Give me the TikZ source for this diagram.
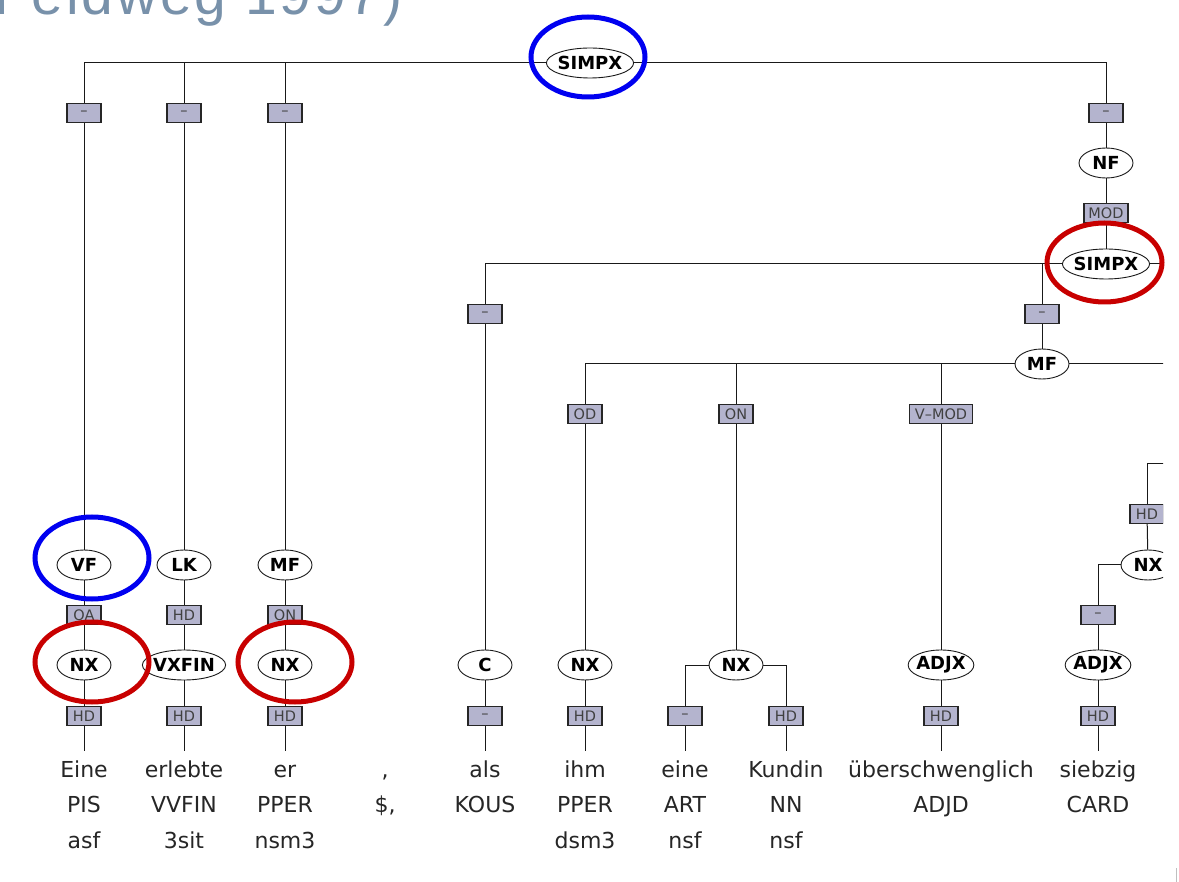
\documentclass[tikz,border=0pt]{standalone}
\usepackage{fontspec}
\setmainfont{DejaVu Sans}
\newfontfamily\titlefont[LetterSpace=5]{Liberation Sans}
\usetikzlibrary{shapes.geometric}
\definecolor{labcol}{RGB}{180,180,206}
\definecolor{ttl}{RGB}{120,145,170}
\definecolor{hiblue}{RGB}{0,0,240}
\definecolor{hired}{RGB}{200,0,0}
\begin{document}
\begin{tikzpicture}[x=1pt,y=-1pt,
  cat/.style={ellipse, draw=black!90, line width=0.9pt, fill=white, inner xsep=-1.5pt, inner ysep=0pt, minimum width=54pt, minimum height=30pt, font=\fontsize{18}{18}\selectfont\bfseries},
  lab/.style={rectangle, draw=black!85, line width=1.1pt, fill=labcol, inner sep=1.5pt, minimum width=34pt, minimum height=19pt, font=\fontsize{14.5}{14.5}\selectfont, text=black!75},
  word/.style={anchor=base, inner xsep=0pt, inner ysep=9pt, text height=17pt, text depth=5pt, font=\fontsize{22}{22}\selectfont, text=black!85},
  tag/.style={anchor=base, inner sep=0pt, font=\fontsize{22}{22}\selectfont, text=black!85},
  conn/.style={line width=1pt, draw=black!90},
  hl/.style={line width=5pt}
]
\useasboundingbox (0,0) rectangle (1179,882);
\fill[white] (0,0) rectangle (1179,882);
\begin{scope}
\clip (0,0) rectangle (1179,882);
\node[anchor=base west, inner sep=0pt, text=ttl, font=\titlefont\fontsize{57}{57}\selectfont] (title) at (-6,15) {Feldweg 1997)};
\end{scope}
\begin{scope}
\clip (0,0) rectangle (1163,882);
% top level
\node[cat] (s1) at (590,63) {SIMPX};
\node[lab] (e1) at (84,113) {–};
\node[lab] (e2) at (184,113) {–};
\node[lab] (e3) at (285,113) {–};
\node[lab] (e4) at (1106,113) {–};
\node[cat] (vf) at (84,565) {VF};
\node[cat] (lk) at (184,565) {LK};
\node[cat] (mf1) at (285,565) {MF};
\node[lab] (oa) at (84,615) {OA};
\node[lab] (hd1) at (184,615) {HD};
\node[lab] (on1) at (285,615) {ON};
\node[cat] (nx1) at (84,665) {NX};
\node[cat] (vxfin) at (184,665) {VXFIN};
\node[cat] (nx2) at (285,665) {NX};
\node[lab] (h1) at (84,716) {HD};
\node[lab] (h2) at (184,716) {HD};
\node[lab] (h3) at (285,716) {HD};
% NF branch
\node[cat] (nf) at (1106,163) {NF};
\node[lab, minimum width=44pt] (mod) at (1106,213) {MOD};
\node[cat] (s2) at (1106,264) {SIMPX};
\coordinate (s2r) at (1200,264);
\node[lab] (e5) at (485,314) {–};
\node[lab] (e6) at (1042,314) {–};
\node[cat] (c) at (485,665) {C};
\node[lab] (e7) at (485,716) {–};
\node[cat] (mf2) at (1042,364) {MF};
\coordinate (mf2r) at (1200,364);
\node[lab] (od) at (585,414) {OD};
\node[lab] (on2) at (736,414) {ON};
\node[lab, minimum width=63pt] (vmod) at (941,414) {V–MOD};
\node[cat] (nx3) at (585,665) {NX};
\node[cat] (nx4) at (736,665) {NX};
\node[cat] (adjx1) at (941,665) {ADJX};
\node[lab] (h4) at (585,716) {HD};
\node[lab] (e8) at (685,716) {–};
\node[lab] (h5) at (786,716) {HD};
\node[lab] (h6) at (941,716) {HD};
% right partial
\coordinate (r1) at (1200,464);
\node[lab] (h7) at (1147,514) {HD};
\node[cat] (nx5) at (1148,565) {NX};
\node[lab] (e9) at (1098,615) {–};
\node[cat] (adjx2) at (1098,665) {ADJX};
\node[lab] (h8) at (1098,716) {HD};
% words
\node[word] (w1) at (84,777) {Eine};
\node[word] (w2) at (184,777) {erlebte};
\node[word] (w3) at (285,777) {er};
\node[word] (w4) at (385,777) {,};
\node[word] (w5) at (485,777) {als};
\node[word] (w6) at (585,777) {ihm};
\node[word] (w7) at (685,777) {eine};
\node[word] (w8) at (786,777) {Kundin};
\node[word] (w9) at (941,777) {überschwenglich};
\node[word] (w10) at (1098,777) {siebzig};
\node[tag] (p1) at (84,812) {PIS};
\node[tag] (p2) at (184,812) {VVFIN};
\node[tag] (p3) at (285,812) {PPER};
\node[tag] (p4) at (385,812) {\$,};
\node[tag] (p5) at (485,812) {KOUS};
\node[tag] (p6) at (585,812) {PPER};
\node[tag] (p7) at (685,812) {ART};
\node[tag] (p8) at (786,812) {NN};
\node[tag] (p9) at (941,812) {ADJD};
\node[tag] (p10) at (1098,812) {CARD};
\node[tag] (m1) at (84,848) {asf};
\node[tag] (m2) at (184,848) {3sit};
\node[tag] (m3) at (285,848) {nsm3};
\node[tag] (m6) at (585,848) {dsm3};
\node[tag] (m7) at (685,848) {nsf};
\node[tag] (m8) at (786,848) {nsf};
% connectors
\draw[conn] (s1) -| (e1);
\draw[conn] (s1) -| (e2);
\draw[conn] (s1) -| (e3);
\draw[conn] (s1) -| (e4);
\draw[conn] (e1) -- (vf);
\draw[conn] (e2) -- (lk);
\draw[conn] (e3) -- (mf1);
\draw[conn] (vf) -- (oa);
\draw[conn] (oa) -- (nx1);
\draw[conn] (nx1) -- (h1);
\draw[conn] (h1) -- (w1);
\draw[conn] (lk) -- (hd1);
\draw[conn] (hd1) -- (vxfin);
\draw[conn] (vxfin) -- (h2);
\draw[conn] (h2) -- (w2);
\draw[conn] (mf1) -- (on1);
\draw[conn] (on1) -- (nx2);
\draw[conn] (nx2) -- (h3);
\draw[conn] (h3) -- (w3);
\draw[conn] (e4) -- (nf);
\draw[conn] (nf) -- (mod);
\draw[conn] (mod) -- (s2);
\draw[conn] (s2) -| (e5);
\draw[conn] (s2) -| (e6);
\draw[conn] (s2) -- (s2r);
\draw[conn] (e5) -- (c);
\draw[conn] (c) -- (e7);
\draw[conn] (e7) -- (w5);
\draw[conn] (e6) -- (mf2);
\draw[conn] (mf2) -| (od);
\draw[conn] (mf2) -| (on2);
\draw[conn] (mf2) -| (vmod);
\draw[conn] (mf2) -- (mf2r);
\draw[conn] (od) -- (nx3);
\draw[conn] (nx3) -- (h4);
\draw[conn] (h4) -- (w6);
\draw[conn] (on2) -- (nx4);
\draw[conn] (nx4) -| (e8);
\draw[conn] (nx4) -| (h5);
\draw[conn] (e8) -- (w7);
\draw[conn] (h5) -- (w8);
\draw[conn] (vmod) -- (adjx1);
\draw[conn] (adjx1) -- (h6);
\draw[conn] (h6) -- (w9);
\draw[conn] (r1) -| (h7);
\draw[conn] (h7) -- (nx5);
\draw[conn] (nx5) -| (e9);
\draw[conn] (e9) -- (adjx2);
\draw[conn] (adjx2) -- (h8);
\draw[conn] (h8) -- (w10);
\end{scope}
% highlights
\draw[hl, hiblue] (588,57) ellipse [x radius=57, y radius=40];
\draw[hl, hiblue] (92,558) ellipse [x radius=57, y radius=41];
\draw[hl, hired] (92,662) ellipse [x radius=57, y radius=40];
\draw[hl, hired] (295,662) ellipse [x radius=57, y radius=40];
\draw[hl, hired] (1104.5,262.5) ellipse [x radius=57.5, y radius=39.5];
\draw[black!25, line width=1pt] (1176,868) -- (1176,882);
\end{tikzpicture}
\end{document}
